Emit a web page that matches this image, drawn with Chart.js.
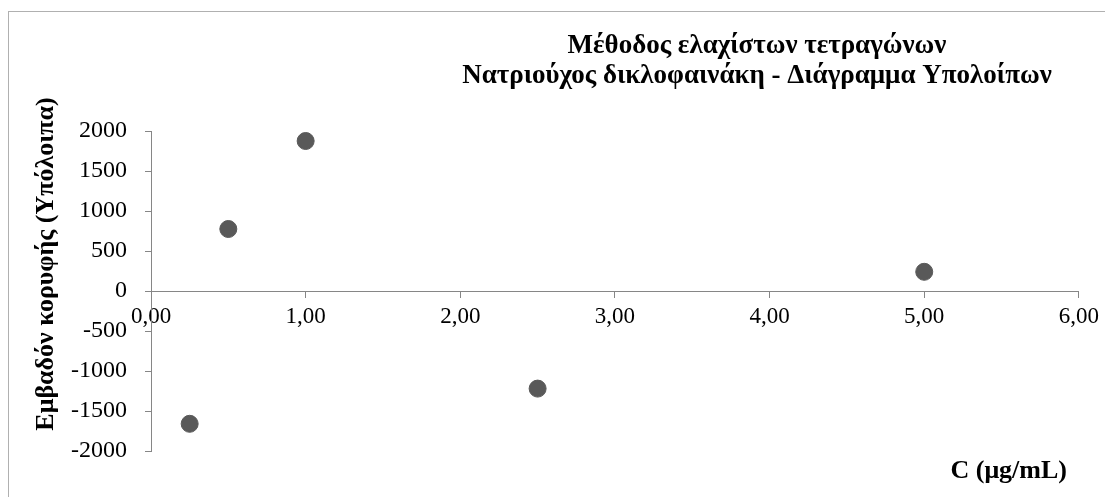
<!DOCTYPE html>
<html>
<head>
<meta charset="utf-8">
<script src="https://cdn.jsdelivr.net/npm/chart.js@4/dist/chart.umd.min.js"></script>
<style>
  html, body { margin: 0; padding: 0; background: #ffffff; }
  #wrap { position: relative; width: 1105px; height: 497px; overflow: hidden; }
  #frame { position: absolute; left: 8px; top: 11px; width: 1200px; height: 600px;
           border-left: 1px solid #b0b0b0; border-top: 1px solid #b0b0b0; box-sizing: border-box; }
  canvas { position: absolute; left: 0; top: 0; }
</style>
</head>
<body>
<div id="wrap">
  <div id="frame"></div>
  <canvas id="residuals" width="1105" height="497"></canvas>
</div>
<script>
// Concentration (µg/mL) and peak-area residuals from the least-squares fit
const concentrations = [0.25, 0.5, 1.0, 2.5, 5.0];
const residuals = [-1660, 775, 1875, -1220, 240];

const xTicks = [0, 1, 2, 3, 4, 5, 6];
const yTicks = [-2000, -1500, -1000, -500, 0, 500, 1000, 1500, 2000];

const titleLines = ['Μέθοδος ελαχίστων τετραγώνων', 'Νατριούχος δικλοφαινάκη - Διάγραμμα Υπολοίπων'];
const yTitle = 'Εμβαδόν κορυφής (Υπόλοιπα)';
const xTitle = 'C (μg/mL)';

const serif = '"Liberation Serif", "Times New Roman", serif';
const axisGray = '#868686';

// Titles are placed freely around the plot, like in a spreadsheet chart
const textPlugin = {
  id: 'chartTexts',
  afterDraw(chart) {
    const ctx = chart.ctx;
    ctx.save();
    ctx.fillStyle = '#000000';
    ctx.textBaseline = 'alphabetic';

    ctx.font = 'bold 27px ' + serif;
    ctx.textAlign = 'center';
    ctx.fillText(titleLines[0], 757, 53);
    ctx.fillText(titleLines[1], 757, 83);

    ctx.font = 'bold 26px ' + serif;
    ctx.textAlign = 'right';
    ctx.fillText(xTitle, 1067, 478);

    ctx.translate(53, 264);
    ctx.rotate(-Math.PI / 2);
    ctx.textAlign = 'center';
    ctx.fillText(yTitle, 0, 0);
    ctx.restore();
  }
};

new Chart(document.getElementById('residuals'), {
  type: 'scatter',
  data: {
    datasets: [{
      data: concentrations.map((c, i) => ({ x: c, y: residuals[i] })),
      backgroundColor: '#595959',
      borderColor: '#595959',
      pointRadius: 8.5,
      pointHoverRadius: 8.5
    }]
  },
  options: {
    responsive: false,
    devicePixelRatio: 1,
    animation: false,
    layout: { padding: { left: 0, top: 131, right: 26, bottom: 46 } },
    plugins: { legend: { display: false }, tooltip: { enabled: false }, title: { display: false } },
    scales: {
      x: {
        type: 'linear',
        position: { y: 0 },
        min: xTicks[0],
        max: xTicks[xTicks.length - 1],
        afterBuildTicks(scale) { scale.ticks = xTicks.map(v => ({ value: v })); },
        ticks: {
          color: '#000000',
          font: { family: serif, size: 23 },
          padding: 6,
          maxRotation: 0,
          callback: v => v.toFixed(2).replace('.', ',')
        },
        grid: { drawOnChartArea: false, tickLength: 6, color: axisGray },
        border: { color: axisGray }
      },
      y: {
        type: 'linear',
        position: 'left',
        min: yTicks[0],
        max: yTicks[yTicks.length - 1],
        afterBuildTicks(scale) { scale.ticks = yTicks.map(v => ({ value: v })); },
        afterFit(scale) { scale.width = 151; },
        ticks: {
          color: '#000000',
          font: { family: serif, size: 24 },
          padding: 18,
          callback: v => String(v)
        },
        grid: { drawOnChartArea: false, tickLength: 6, color: axisGray },
        border: { color: axisGray }
      }
    }
  },
  plugins: [textPlugin]
});
</script>
</body>
</html>
